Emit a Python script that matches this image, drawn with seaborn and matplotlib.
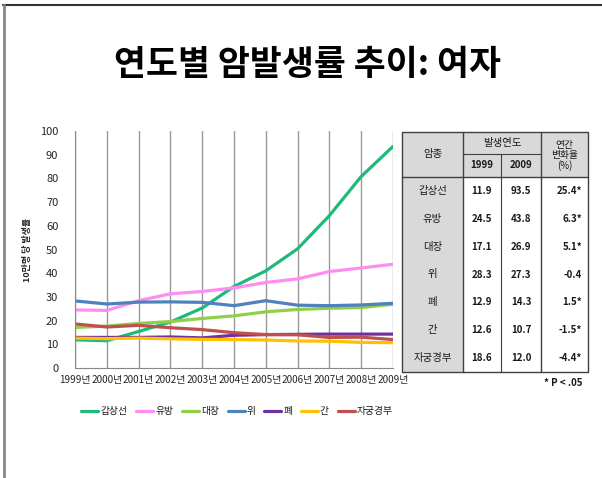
import pandas as pd
import matplotlib.pyplot as plt
import seaborn as sns

years = list(range(1999, 2010))
year_labels = [f"{y}년" for y in years]

cancer_names = ['갑상선', '유방', '대장', '위', '폐', '간', '자궁경부']
thyroid = [11.9, 11.5, 15.4, 19.4, 25.3, 34.4, 41.0, 50.3, 64.3, 80.8, 93.5]
breast = [24.5, 24.3, 28.4, 31.3, 32.3, 33.8, 36.1, 37.6, 40.7, 42.2, 43.8]
colon = [17.1, 17.7, 18.8, 19.6, 20.9, 22.0, 23.7, 24.7, 25.2, 25.5, 26.9]
stomach = [28.3, 27.0, 27.8, 27.9, 27.7, 26.3, 28.4, 26.5, 26.3, 26.6, 27.3]
lung = [12.9, 12.9, 12.9, 13.1, 12.7, 13.8, 14.1, 14.2, 14.3, 14.3, 14.3]
liver = [12.6, 12.4, 12.6, 12.3, 12.1, 12.0, 11.8, 11.4, 11.3, 10.8, 10.7]
cervix = [18.6, 17.3, 18.0, 17.0, 16.2, 14.9, 14.1, 14.0, 12.9, 13.0, 12.0]
series = [thyroid, breast, colon, stomach, lung, liver, cervix]

colors = ['#1fba7a', '#ff8cf2', '#8fcf4a', '#4f81bd', '#7030a0', '#ffc000', '#c0504d']

# table values
tbl_1999 = ['11.9', '24.5', '17.1', '28.3', '12.9', '12.6', '18.6']
tbl_2009 = ['93.5', '43.8', '26.9', '27.3', '14.3', '10.7', '12.0']
tbl_rate = ['25.4*', '6.3*', '5.1*', '-0.4', '1.5*', '-1.5*', '-4.4*']

rows = []
for name, vals in zip(cancer_names, series):
    for y, v in zip(years, vals):
        rows.append({'year': y, 'cancer': name, 'rate': v})
df = pd.DataFrame(rows)

sns.set_style('white')
plt.rcParams['font.family'] = ['Noto Sans CJK KR', 'DejaVu Sans']
plt.rcParams['text.color'] = '#1a1a1a'

W, H = 602, 478
fig = plt.figure(figsize=(W / 100, H / 100), dpi=100)

# slide border
fig.add_artist(plt.Line2D([3 / W, 1], [1 - 5 / H, 1 - 5 / H], color='#333333', lw=1.5))
fig.add_artist(plt.Line2D([3.5 / W, 3.5 / W], [0, 1 - 5 / H], color='#888888', lw=2))

fig.text(308 / W, 1 - 64 / H, '연도별 암발생률 추이: 여자', ha='center', va='center',
         fontsize=25, fontweight='heavy', color='black')

ax = fig.add_axes([75 / W, 1 - 368 / H, (393 - 75) / W, (368 - 131) / H])
sns.lineplot(data=df, x='year', y='rate', hue='cancer', hue_order=cancer_names,
             palette=dict(zip(cancer_names, colors)), lw=2.3, ax=ax, legend=False)
ax.set_xlim(1999, 2009)
ax.set_ylim(0, 100)
ax.set_xticks(years)
ax.set_xticklabels(year_labels, fontsize=7.2)
ax.set_yticks(range(0, 101, 10))
ax.tick_params(axis='y', labelsize=8, length=4, color='#888888', pad=8)
ax.tick_params(axis='x', length=4, color='#888888', pad=1)
ax.xaxis.grid(True, color='#999999', lw=1)
ax.set_xlabel('')
ax.set_ylabel('10만명 당 발생률', fontsize=6.5, fontweight='bold', labelpad=6)
for s in ['top', 'right']:
    ax.spines[s].set_visible(False)
for s in ['left', 'bottom']:
    ax.spines[s].set_color('#888888')

handles = [plt.Line2D([], [], color=c, lw=2.3) for c in colors]
fig.legend(handles, cancer_names, loc='center', bbox_to_anchor=(237 / W, 1 - 411 / H),
           ncol=7, frameon=False, fontsize=7, handlelength=1.75, handletextpad=0.2,
           columnspacing=0.9)

# table drawn in pixel coordinates
tx = fig.add_axes([0, 0, 1, 1], zorder=-1)
tx.set_xlim(0, W)
tx.set_ylim(H, 0)
tx.axis('off')
tl, tr, tt, tb = 402, 588, 132, 372
c1, c2, c3 = 463, 501, 541
hb, hm = 177, 154
rh = (tb - hb) / len(cancer_names)
gray = '#d9d9d9'
line_c = '#404040'
tx.add_patch(plt.Rectangle((tl, tt), tr - tl, hb - tt, color=gray, lw=0))
tx.add_patch(plt.Rectangle((tl, tt), c1 - tl, tb - tt, color=gray, lw=0))
tx.plot([tl, tr, tr, tl, tl], [tt, tt, tb, tb, tt], color=line_c, lw=1)
tx.plot([tl, tr], [hb, hb], color=line_c, lw=1)
tx.plot([c1, c3], [hm, hm], color=line_c, lw=0.8)
for cx in [c1, c3]:
    tx.plot([cx, cx], [tt, tb], color=line_c, lw=1)
tx.plot([c2, c2], [hm, tb], color=line_c, lw=0.8)

tx.text((tl + c1) / 2, (tt + hb) / 2, '암종', ha='center', va='center', fontsize=7.5)
tx.text((c1 + c3) / 2, (tt + hm) / 2, '발생연도', ha='center', va='center', fontsize=7.5)
tx.text((c1 + c2) / 2, (hm + hb) / 2, '1999', ha='center', va='center', fontsize=7,
        fontweight='bold')
tx.text((c2 + c3) / 2, (hm + hb) / 2, '2009', ha='center', va='center', fontsize=7,
        fontweight='bold')
tx.text((c3 + tr) / 2, (tt + hb) / 2 + 1, '연간\n변화율\n(%)', ha='center', va='center',
        fontsize=7, linespacing=1.05)
for i, name in enumerate(cancer_names):
    yc = hb + rh * (i + 0.5)
    tx.text((tl + c1) / 2, yc, name, ha='center', va='center', fontsize=7.5)
    tx.text((c1 + c2) / 2, yc, tbl_1999[i], ha='center', va='center', fontsize=7,
            fontweight='bold')
    tx.text((c2 + c3) / 2, yc, tbl_2009[i], ha='center', va='center', fontsize=7,
            fontweight='bold')
    tx.text(tr - 6, yc, tbl_rate[i], ha='right', va='center', fontsize=7,
            fontweight='bold')
tx.text(tr - 6, 383, '* P < .05', ha='right', va='center', fontsize=7, fontweight='bold')

fig.savefig('out.png', dpi=100)
